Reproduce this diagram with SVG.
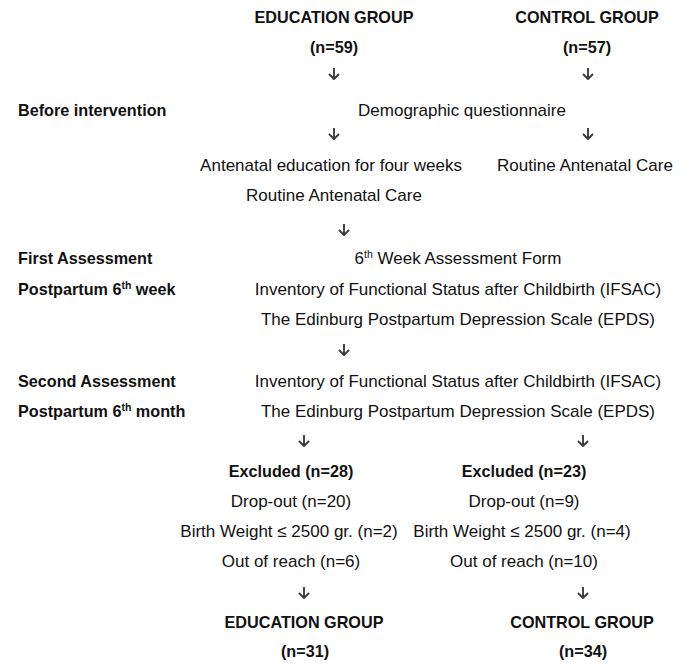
<svg xmlns="http://www.w3.org/2000/svg" width="698" height="664" viewBox="0 0 698 664">
<style>
text{font-family:"Liberation Sans",Arial,sans-serif;font-size:17px;fill:#111;text-anchor:middle}
.b{font-weight:bold;font-size:16.2px}
.l{text-anchor:start}
.sup{font-size:10.5px}
.arr{fill:none;stroke:#3c3c3c;stroke-width:1.9;stroke-linejoin:round}
</style>
<defs>
<path id="ar" class="arr" d="M0,-6 V5 M-5,0 L0,5 L5,0"/>
</defs>
<rect width="698" height="664" fill="#fff"/>
<g id="edu-top"><text class="b" x="334" y="23">EDUCATION GROUP</text><text class="b" x="334" y="53">(n=59)</text></g>
<g id="ctrl-top"><text class="b" x="587" y="23">CONTROL GROUP</text><text class="b" x="587" y="53">(n=57)</text></g>
<g id="lbl-before"><text class="b l" x="18" y="116">Before intervention</text></g>
<g id="demo"><text x="462" y="116">Demographic questionnaire</text></g>
<g id="edu-ante"><text x="331" y="171">Antenatal education for four weeks</text><text x="334" y="201">Routine Antenatal Care</text></g>
<g id="ctrl-ante"><text x="585" y="171">Routine Antenatal Care</text></g>
<g id="lbl-first"><text class="b l" x="18" y="264">First Assessment</text><text class="b l" x="18" y="295">Postpartum 6<tspan class="sup" dy="-6">th</tspan><tspan dy="6"> week</tspan></text></g>
<g id="first"><text x="458" y="264">6<tspan class="sup" dy="-6">th</tspan><tspan dy="6"> Week Assessment Form</tspan></text><text x="458" y="295">Inventory of Functional Status after Childbirth (IFSAC)</text><text x="458" y="325">The Edinburg Postpartum Depression Scale (EPDS)</text></g>
<g id="lbl-second"><text class="b l" x="18" y="387">Second Assessment</text><text class="b l" x="18" y="417">Postpartum 6<tspan class="sup" dy="-6">th</tspan><tspan dy="6"> month</tspan></text></g>
<g id="second"><text x="458" y="387">Inventory of Functional Status after Childbirth (IFSAC)</text><text x="458" y="417">The Edinburg Postpartum Depression Scale (EPDS)</text></g>
<g id="edu-excl"><text class="b" x="291" y="477">Excluded (n=28)</text><text x="291" y="507">Drop-out (n=20)</text><text x="289" y="537">Birth Weight ≤ 2500 gr. (n=2)</text><text x="291" y="567">Out of reach (n=6)</text></g>
<g id="ctrl-excl"><text class="b" x="524" y="477">Excluded (n=23)</text><text x="524" y="507">Drop-out (n=9)</text><text x="522" y="537">Birth Weight ≤ 2500 gr. (n=4)</text><text x="524" y="567">Out of reach (n=10)</text></g>
<g id="edu-final"><text class="b" x="304" y="628">EDUCATION GROUP</text><text class="b" x="305" y="657">(n=31)</text></g>
<g id="ctrl-final"><text class="b" x="582" y="628">CONTROL GROUP</text><text class="b" x="583" y="657">(n=34)</text></g>
<g id="connectors">
<use href="#ar" x="334" y="74"/>
<use href="#ar" x="588" y="74"/>
<use href="#ar" x="334" y="134"/>
<use href="#ar" x="588" y="134"/>
<use href="#ar" x="344" y="230"/>
<use href="#ar" x="344" y="350"/>
<use href="#ar" x="304" y="441"/>
<use href="#ar" x="583" y="441"/>
<use href="#ar" x="304" y="593"/>
<use href="#ar" x="583" y="593"/>
</g>
</svg>
